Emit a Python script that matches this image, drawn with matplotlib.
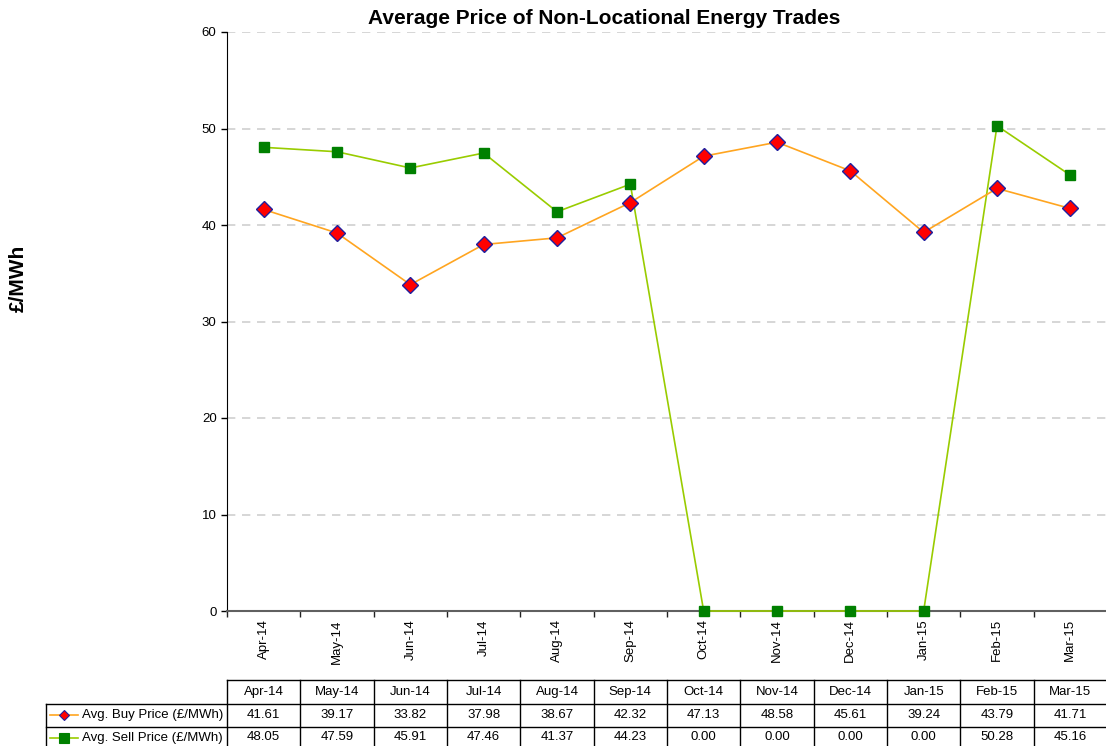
import matplotlib
matplotlib.use("Agg")
import matplotlib.pyplot as plt
from matplotlib.transforms import blended_transform_factory
from matplotlib.lines import Line2D

months = ["Apr-14", "May-14", "Jun-14", "Jul-14", "Aug-14", "Sep-14",
          "Oct-14", "Nov-14", "Dec-14", "Jan-15", "Feb-15", "Mar-15"]
buy = [41.61, 39.17, 33.82, 37.98, 38.67, 42.32, 47.13, 48.58, 45.61, 39.24, 43.79, 41.71]
sell = [48.05, 47.59, 45.91, 47.46, 41.37, 44.23, 0.00, 0.00, 0.00, 0.00, 50.28, 45.16]
series_names = ["Avg. Buy Price (£/MWh)", "Avg. Sell Price (£/MWh)"]
yticks = [0, 10, 20, 30, 40, 50, 60]

plt.rcParams['font.family'] = ['Liberation Sans', 'DejaVu Sans']

W, H = 1106, 746
fig = plt.figure(figsize=(W / 100, H / 100), dpi=100)
ax = fig.add_axes([227 / W, 1 - 611 / H, 880 / W, (611 - 32) / H])

x = list(range(len(months)))
buy_color = "#FFA520"
sell_color = "#99CC00"
ax.plot(x, buy, color=buy_color, lw=1.2, marker="D", ms=8.5,
        mfc="#FF0000", mec="#1F1F9F", mew=1.0, zorder=4, clip_on=False)
ax.plot(x, sell, color=sell_color, lw=1.2, marker="s", ms=7,
        mfc="#008000", mec="#008000", zorder=3, clip_on=False)

ax.set_xlim(-0.5, len(months) - 0.5)
ax.set_ylim(0, 60)
ax.set_yticks(yticks)
for yv in yticks[1:]:
    ax.axhline(yv, color="#D0D0D0", lw=1.2, ls=(0, (5, 4)), zorder=1)

ax.set_xticks([i - 0.5 for i in range(len(months) + 1)])
ax.set_xticklabels([])
ax.set_xticks(x, minor=True)
ax.set_xticklabels(months, minor=True, rotation=90, fontsize=9.5)
ax.tick_params(axis="x", which="minor", length=0, pad=6)
ax.tick_params(axis="x", which="major", length=4, width=1, color="#222222", direction="out")
ax.tick_params(axis="y", length=4, width=1, labelsize=9.5, direction="out")

for s in ["top", "right"]:
    ax.spines[s].set_visible(False)
ax.spines["left"].set_color("#000000")
ax.spines["bottom"].set_color("#606060")
ax.spines["bottom"].set_linewidth(1.5)

fig.text(604 / W, 1 - 18 / H, "Average Price of Non-Locational Energy Trades",
         fontsize=15, fontweight="bold", ha="center", va="center")
fig.text(18 / W, 1 - 278 / H, "£/MWh", rotation=90, fontsize=15,
         fontweight="bold", ha="center", va="center")

# Data table
tr = blended_transform_factory(ax.transData, fig.transFigure)
ys = [1 - 680 / H, 1 - 703.5 / H, 1 - 727 / H, 1 - 748 / H]
x0 = -0.5
x1 = len(months) - 0.5
unit = 880 / len(months)
xl = x0 - (227 - 46) / unit
lc = "#000000"
lw = 1.0

def hline(xa, xb, y):
    fig.add_artist(Line2D([xa, xb], [y, y], transform=tr, color=lc, lw=lw))

def vline(xv, ya, yb):
    fig.add_artist(Line2D([xv, xv], [ya, yb], transform=tr, color=lc, lw=lw))

hline(x0, x1, ys[0])
hline(xl, x1, ys[1])
hline(xl, x1, ys[2])
vline(xl, ys[1], ys[3] - 0.01)
for i in range(len(months) + 1):
    vline(i - 0.5, ys[0], ys[3] - 0.01)

fs = 9.5
for i, m in enumerate(months):
    fig.text(i, (ys[0] + ys[1]) / 2, m, transform=tr, ha="center", va="center", fontsize=fs)
    fig.text(i, (ys[1] + ys[2]) / 2, f"{buy[i]:.2f}", transform=tr, ha="center", va="center", fontsize=fs)
    fig.text(i, (ys[2] + ys[3]) / 2, f"{sell[i]:.2f}", transform=tr, ha="center", va="center", fontsize=fs)

def px(p):
    return x0 + (p - 227) / unit

for r, (name, col, mk, mfc, mec, ms) in enumerate([
        (series_names[0], buy_color, "D", "#FF0000", "#1F1F9F", 5.5),
        (series_names[1], sell_color, "s", "#008000", "#008000", 6.5)]):
    yc = (ys[r + 1] + ys[r + 2]) / 2
    fig.add_artist(Line2D([px(50), px(78)], [yc, yc], transform=tr, color=col, lw=1.2))
    fig.add_artist(Line2D([px(64)], [yc], transform=tr, marker=mk, ms=ms,
                          mfc=mfc, mec=mec, mew=0.8, color=col))
    fig.text(px(82), yc, name, transform=tr, ha="left", va="center", fontsize=fs)

fig.savefig("out.png", dpi=100)
